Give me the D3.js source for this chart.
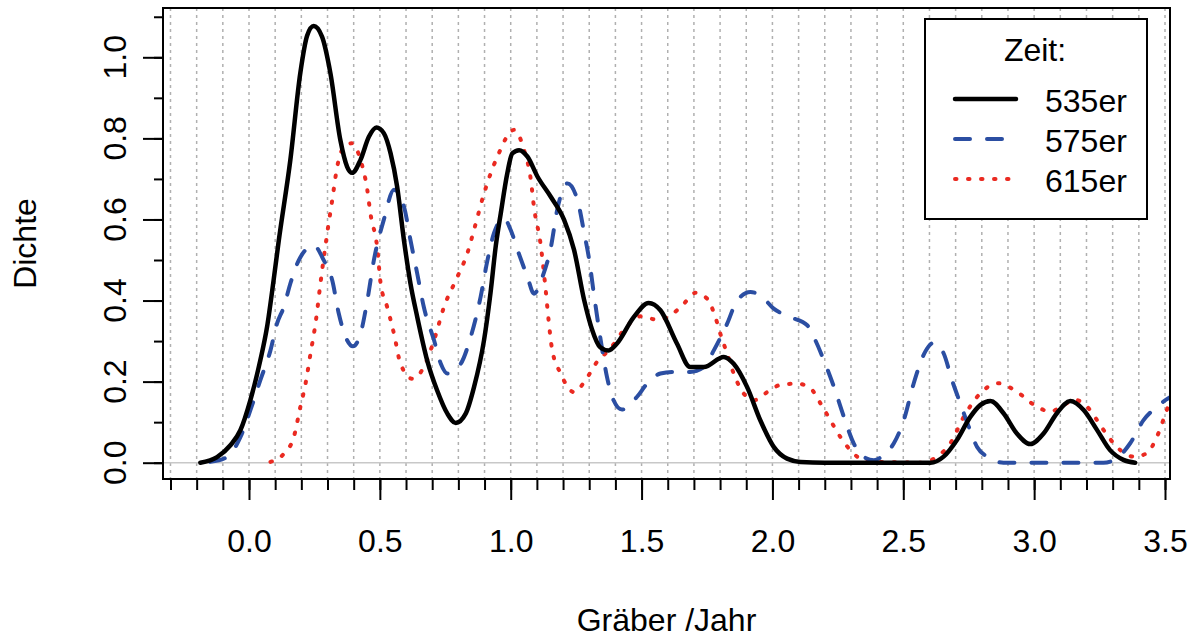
<!DOCTYPE html>
<html lang="de">
<head>
  <meta charset="utf-8">
  <title>Dichte – Gräber /Jahr</title>
  <script src="https://cdn.jsdelivr.net/npm/d3@7"></script>
  <style>
    body {
      margin: 0;
      background: #fff;
    }

    svg {
      display: block;
    }

    text {
      font-family: "Liberation Sans", Arial, sans-serif;
      font-size: 32px;
      fill: #000;
    }

    .grid line {
      stroke: #b0b0b0;
      stroke-width: 1.5;
      stroke-dasharray: 3,4;
    }

    .axis line {
      stroke: #000;
      stroke-width: 2;
    }

    .axis path {
      display: none;
    }
  </style>
</head>
<body>

<svg width="1194" height="637"></svg>

<script>
// Werte: [Gräber/Jahr, Dichte]
var zeiten = ["535er", "575er", "615er"];

var d535 = [
  [-0.186,0], [-0.122,0.014], [-0.071,0.043], [-0.033,0.08], [0.005,0.154], [0.043,0.252],
  [0.069,0.335], [0.094,0.45], [0.114,0.549], [0.158,0.747], [0.196,0.961], [0.222,1.053],
  [0.247,1.077], [0.279,1.051], [0.311,0.961], [0.349,0.796], [0.375,0.73], [0.394,0.715],
  [0.426,0.747], [0.458,0.804], [0.487,0.827], [0.515,0.813], [0.541,0.763], [0.566,0.681],
  [0.592,0.549], [0.617,0.442], [0.643,0.359], [0.681,0.252], [0.719,0.178], [0.758,0.121],
  [0.79,0.098], [0.828,0.121], [0.86,0.187], [0.898,0.302], [0.923,0.42], [0.943,0.535],
  [0.962,0.615], [0.987,0.714], [1.006,0.763], [1.032,0.771], [1.064,0.755], [1.102,0.706],
  [1.153,0.656], [1.204,0.599], [1.242,0.525], [1.281,0.40], [1.31,0.33], [1.342,0.285],
  [1.374,0.277], [1.406,0.294], [1.47,0.359], [1.527,0.394], [1.572,0.376], [1.635,0.294],
  [1.686,0.236], [1.738,0.236], [1.814,0.261], [1.852,0.244], [1.903,0.187], [1.954,0.104],
  [2.005,0.039], [2.056,0.01], [2.107,0.002], [2.2,0], [2.5,0], [2.604,0], [2.654,0.015],
  [2.705,0.056], [2.756,0.113], [2.794,0.142], [2.833,0.152], [2.883,0.122], [2.934,0.072],
  [2.985,0.046], [3.036,0.072], [3.087,0.122], [3.138,0.152], [3.189,0.13], [3.24,0.081],
  [3.29,0.031], [3.341,0.007], [3.386,0]
];

var d575 = [
  [-0.148,0.002], [-0.084,0.014], [-0.033,0.063], [0.005,0.129], [0.043,0.203], [0.082,0.277],
  [0.107,0.343], [0.133,0.384], [0.158,0.442], [0.19,0.499], [0.247,0.536], [0.286,0.499],
  [0.318,0.45], [0.343,0.368], [0.375,0.302], [0.397,0.287], [0.426,0.318], [0.452,0.40],
  [0.477,0.499], [0.515,0.599], [0.554,0.673], [0.592,0.632], [0.617,0.549], [0.643,0.466],
  [0.668,0.384], [0.707,0.302], [0.733,0.244], [0.758,0.22], [0.809,0.244], [0.847,0.31],
  [0.885,0.409], [0.911,0.499], [0.936,0.566], [0.974,0.603], [1.0,0.574], [1.026,0.525],
  [1.064,0.458], [1.089,0.417], [1.121,0.458], [1.153,0.53], [1.178,0.625], [1.217,0.689],
  [1.255,0.648], [1.281,0.566], [1.30,0.50], [1.317,0.42], [1.342,0.31], [1.368,0.211],
  [1.393,0.154], [1.425,0.131], [1.482,0.162], [1.521,0.195], [1.572,0.22], [1.623,0.224],
  [1.686,0.224], [1.738,0.236], [1.776,0.277], [1.827,0.343], [1.865,0.40], [1.916,0.421],
  [1.954,0.413], [2.005,0.38], [2.069,0.359], [2.133,0.339], [2.158,0.31], [2.197,0.252],
  [2.235,0.187], [2.273,0.113], [2.311,0.047], [2.35,0.014], [2.388,0.006], [2.425,0.019],
  [2.464,0.048], [2.502,0.105], [2.54,0.196], [2.584,0.274], [2.616,0.296], [2.654,0.27],
  [2.686,0.204], [2.718,0.146], [2.75,0.089], [2.782,0.039], [2.82,0.015], [2.883,0],
  [3.265,0], [3.316,0.011], [3.367,0.048], [3.418,0.105], [3.469,0.138], [3.513,0.159],
  [3.55,0.17]
];

var d615 = [
  [0.082,0.002], [0.133,0.022], [0.171,0.063], [0.196,0.137], [0.216,0.195], [0.235,0.269],
  [0.254,0.343], [0.273,0.442], [0.286,0.507], [0.302,0.58], [0.318,0.648], [0.337,0.73],
  [0.362,0.778], [0.394,0.788], [0.426,0.747], [0.452,0.673], [0.464,0.615], [0.49,0.53],
  [0.503,0.442], [0.528,0.384], [0.554,0.318], [0.579,0.244], [0.624,0.207], [0.668,0.236],
  [0.707,0.302], [0.745,0.384], [0.796,0.458], [0.834,0.516], [0.86,0.575], [0.898,0.664],
  [0.949,0.755], [1.013,0.821], [1.051,0.771], [1.077,0.697], [1.089,0.63], [1.114,0.54],
  [1.133,0.43], [1.145,0.35], [1.158,0.28], [1.191,0.22], [1.242,0.174], [1.285,0.203],
  [1.329,0.248], [1.38,0.281], [1.431,0.326], [1.495,0.361], [1.559,0.353], [1.61,0.363],
  [1.661,0.392], [1.706,0.419], [1.75,0.405], [1.782,0.359], [1.801,0.318], [1.827,0.269],
  [1.852,0.22], [1.891,0.17], [1.929,0.154], [1.98,0.174], [2.031,0.192], [2.095,0.195],
  [2.146,0.183], [2.184,0.146], [2.222,0.104], [2.26,0.063], [2.299,0.03], [2.35,0.006],
  [2.414,0.002], [2.565,0], [2.629,0.015], [2.68,0.048], [2.731,0.113], [2.794,0.171],
  [2.864,0.196], [2.934,0.175], [3.011,0.138], [3.062,0.126], [3.112,0.142], [3.157,0.155],
  [3.202,0.138], [3.265,0.081], [3.316,0.039], [3.38,0.015], [3.43,0.023], [3.469,0.064],
  [3.507,0.13], [3.53,0.17]
];

var reihen = [d535, d575, d615];

// Achsenbeschriftung
var xLabels = [0, 0.5, 1, 1.5, 2, 2.5, 3, 3.5];
var xMinor = d3.range(-3, 36).map(function(i) { return i / 10; });
var yLabels = [0, 0.2, 0.4, 0.6, 0.8, 1.0];
var yMinor = d3.range(0, 12).map(function(i) { return i / 10; });

// Linienstile je Zeit
var farben = ["#000000", "#2b4ea2", "#ea2a21"];
var striche = [null, "15,17", "1.5,11.5"];
var breiten = [4.5, 4, 4];

var svg = d3.select("svg");

var box = { left: 163, right: 1170, top: 8, bottom: 479 };

var x = d3.scaleLinear().domain([0, 3.5]).range([249, 1165]);
var y = d3.scaleLinear().domain([0, 1]).range([462.7, 57.3]);

svg.append("defs").append("clipPath")
    .attr("id", "clip")
  .append("rect")
    .attr("x", box.left)
    .attr("y", box.top)
    .attr("width", box.right - box.left)
    .attr("height", box.bottom - box.top);

// senkrechte Gitterlinien
svg.append("g")
    .attr("class", "grid")
  .selectAll("line")
  .data(xMinor)
  .enter().append("line")
    .attr("x1", function(d) { return x(d); })
    .attr("x2", function(d) { return x(d); })
    .attr("y1", box.top)
    .attr("y2", box.bottom);

// Nulllinie
svg.append("line")
    .attr("x1", box.left)
    .attr("x2", box.right)
    .attr("y1", y(0))
    .attr("y2", y(0))
    .attr("stroke", "#c8c8c8")
    .attr("stroke-width", 1.5);

var line = d3.line()
    .x(function(d) { return x(d[0]); })
    .y(function(d) { return y(d[1]); })
    .curve(d3.curveMonotoneX);

// gepunktet zuerst, durchgezogen oben
var order = [2, 1, 0];
svg.append("g")
    .attr("clip-path", "url(#clip)")
  .selectAll("path")
  .data(order)
  .enter().append("path")
    .attr("d", function(i) { return line(reihen[i]); })
    .attr("fill", "none")
    .attr("stroke", function(i) { return farben[i]; })
    .attr("stroke-width", function(i) { return breiten[i]; })
    .attr("stroke-dasharray", function(i) { return striche[i]; })
    .attr("stroke-linecap", "round")
    .attr("stroke-linejoin", "round");

// x-Achse
svg.append("g")
    .attr("class", "axis")
    .attr("transform", "translate(0," + box.bottom + ")")
    .call(d3.axisBottom(x).tickValues(xMinor).tickSize(11).tickFormat(""));

svg.append("g")
    .attr("class", "axis")
    .attr("transform", "translate(0," + box.bottom + ")")
    .call(d3.axisBottom(x).tickValues(xLabels).tickSize(21).tickPadding(29)
      .tickFormat(d3.format(".1f")))
    .selectAll("text")
    .style("font-size", "32px")
    .style("font-family", "\"Liberation Sans\", Arial, sans-serif");

// y-Achse
svg.append("g")
    .attr("class", "axis")
    .attr("transform", "translate(" + box.left + ",0)")
    .call(d3.axisLeft(y).tickValues(yMinor).tickSize(9).tickFormat(""));

svg.append("g")
    .attr("class", "axis")
    .attr("transform", "translate(" + box.left + ",0)")
    .call(d3.axisLeft(y).tickValues(yLabels).tickSize(20).tickFormat(""));

svg.append("g")
  .selectAll("text")
  .data(yLabels)
  .enter().append("text")
    .attr("transform", function(d) { return "translate(126," + y(d) + ") rotate(-90)"; })
    .attr("text-anchor", "middle")
    .text(d3.format(".1f"));

// Rahmen
svg.append("rect")
    .attr("x", box.left)
    .attr("y", box.top)
    .attr("width", box.right - box.left)
    .attr("height", box.bottom - box.top)
    .attr("fill", "none")
    .attr("stroke", "#000")
    .attr("stroke-width", 2);

// Achsentitel
svg.append("text")
    .attr("x", (box.left + box.right) / 2)
    .attr("y", 631)
    .attr("text-anchor", "middle")
    .text("Gräber /Jahr");

svg.append("text")
    .attr("transform", "translate(36," + (box.top + box.bottom) / 2 + ") rotate(-90)")
    .attr("text-anchor", "middle")
    .text("Dichte");

// Legende
var legend = svg.append("g");

legend.append("rect")
    .attr("x", 925)
    .attr("y", 19)
    .attr("width", 222)
    .attr("height", 200)
    .attr("fill", "#fff")
    .attr("stroke", "#000")
    .attr("stroke-width", 2);

legend.append("text")
    .attr("x", 1035)
    .attr("y", 61)
    .attr("text-anchor", "middle")
    .text("Zeit:");

var eintrag = legend.selectAll("g.eintrag")
    .data(zeiten)
  .enter().append("g")
    .attr("class", "eintrag")
    .attr("transform", function(d, i) { return "translate(0," + (99 + i * 40) + ")"; });

eintrag.append("line")
    .attr("x1", 955)
    .attr("x2", 1016)
    .attr("stroke", function(d, i) { return farben[i]; })
    .attr("stroke-width", function(d, i) { return breiten[i]; })
    .attr("stroke-dasharray", function(d, i) { return striche[i]; })
    .attr("stroke-linecap", "round");

eintrag.append("text")
    .attr("x", 1045)
    .attr("y", 13)
    .text(function(d) { return d; });
</script>

</body>
</html>
